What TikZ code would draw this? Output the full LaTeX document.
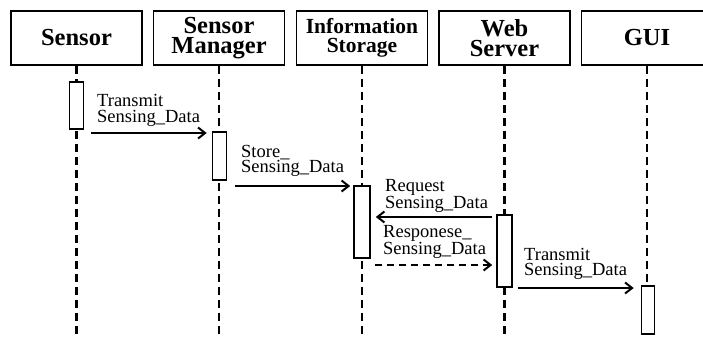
\documentclass[tikz,border=0pt]{standalone}
\usepackage{fontspec}
\setmainfont{Liberation Serif}
\usetikzlibrary{arrows.meta}

\begin{document}
\begin{tikzpicture}[x=1pt,y=-1pt,
    header/.style={draw,line width=1.8pt,minimum width=131pt,minimum height=54pt,
      inner sep=0pt,align=center,font=\bfseries\fontsize{24.5}{20}\selectfont},
    lifeline/.style={line width=2.2pt,dash pattern=on 8pt off 5pt},
    activation/.style={draw,fill=white,line width=1.6pt,minimum width=14pt,inner sep=0pt},
    msg/.style={line width=2pt,-{Straight Barb[length=7pt,width=11pt,line width=2pt]}},
    reply/.style={msg,dash pattern=on 7pt off 5pt},
    msglabel/.style={anchor=north west,inner sep=0pt,align=left,
      font=\fontsize{18.5}{15.5}\selectfont}]
  \useasboundingbox (0,0) rectangle (703,338);
  % objects
  \node[header] (sensor) at (76.5,38) {Sensor};
  \node[header] (manager) at (219,38) {Sensor\\Manager};
  \node[header,font=\bfseries\fontsize{21.5}{19}\selectfont] (storage) at (362,38) {Information\\Storage};
  \node[header] (server) at (504.5,38) {Web\\Server};
  \node[header] (gui) at (647,38) {GUI};
  % lifelines
  \foreach \n in {sensor,manager,storage,server,gui}
    \draw[lifeline] (\n.south) -- (\n.south |- 0,338);
  % activations
  \node[activation,minimum height=47pt] (actsensor) at (76.5,105.5) {};
  \node[activation,minimum height=48pt] (actmanager) at (219.5,156) {};
  \node[activation,minimum height=72pt,minimum width=16pt] (actstorage) at (362,222) {};
  \node[activation,minimum height=72pt,minimum width=15pt] (actserver) at (504.5,251) {};
  \node[activation,minimum height=48pt,minimum width=13pt] (actgui) at (648,310) {};
  % messages
  \draw[msg] ([xshift=7pt]actsensor.east |- 0,133) -- ([xshift=-5pt]actmanager.west |- 0,133);
  \node[msglabel] (lbltransmit) at (97,94.5) {Transmit\\Sensing\_Data};
  \draw[msg] ([xshift=8pt]actmanager.east |- 0,186) -- ([xshift=-3pt]actstorage.west |- 0,186);
  \node[msglabel] (lblstore) at (241,145) {Store\_\\Sensing\_Data};
  \draw[msg] ([xshift=-4pt]actserver.west |- 0,217) -- ([xshift=5pt]actstorage.east |- 0,217);
  \node[msglabel] (lblrequest) at (385,179) {Request\\Sensing\_Data};
  \draw[reply] ([xshift=4pt]actstorage.east |- 0,265) -- ([xshift=-4pt]actserver.west |- 0,265);
  \node[msglabel] (lblresponse) at (383,225) {Responese\_\\Sensing\_Data};
  \draw[msg] ([xshift=5pt]actserver.east |- 0,288) -- ([xshift=-7pt]actgui.west |- 0,288);
  \node[msglabel] (lbltransmitgui) at (524,248) {Transmit\\Sensing\_Data};
\end{tikzpicture}
\end{document}
